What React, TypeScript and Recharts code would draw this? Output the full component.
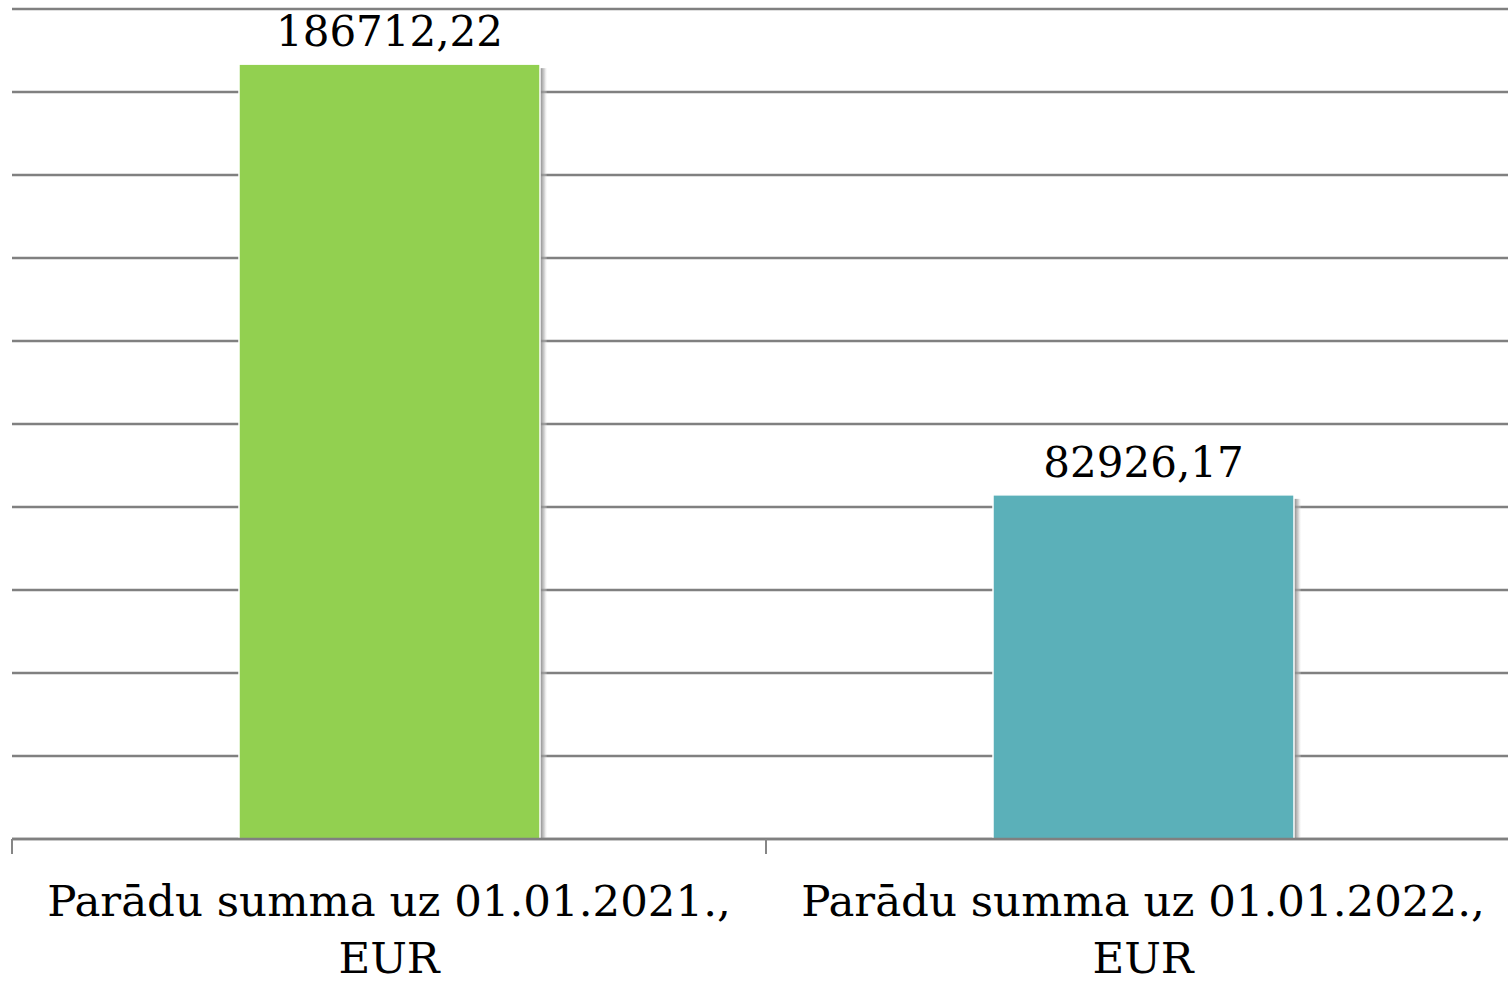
import { BarChart, Bar, XAxis, YAxis, CartesianGrid, LabelList } from 'recharts';

const categories = ['Parādu summa uz 01.01.2021., EUR', 'Parādu summa uz 01.01.2022., EUR'];
const debtValues = [186712.22, 82926.17];
const barColors = ['#92D050', '#5BB0B9'];
const yTicks = [0, 20000, 40000, 60000, 80000, 100000, 120000, 140000, 160000, 180000, 200000];

const chartData = categories.map((name, i) => ({ name, value: debtValues[i] }));

const FONT = '"DejaVu Serif", serif';

// bar with a soft gray shadow on the right, like the office export
function ShadowBar(props: any) {
  const { x, y, width, height, index } = props;
  if (!height || height <= 0) return null;
  const gid = `shadow-${index}`;
  return (
    <g>
      <defs>
        <linearGradient id={gid} x1="0" y1="0" x2="1" y2="0">
          <stop offset="0%" stopColor="#7a7a7a" stopOpacity={0.95} />
          <stop offset="60%" stopColor="#b0b0b0" stopOpacity={0.6} />
          <stop offset="100%" stopColor="#e8e8e8" stopOpacity={0.1} />
        </linearGradient>
      </defs>
      <rect x={x + width} y={y + 4} width={7} height={height - 4} fill={`url(#${gid})`} />
      <rect x={x} y={y} width={width} height={height} fill={barColors[index]} stroke="#ffffff" strokeWidth={1.5} />
    </g>
  );
}

// two-line category label + boundary tick between categories
function CategoryTick(props: any) {
  const { x, y, payload, width } = props;
  const text: string = payload.value;
  const cut = text.lastIndexOf(' ');
  const lines = [text.slice(0, cut), text.slice(cut + 1)];
  const half = width / (categories.length * 2);
  return (
    <g>
      <line x1={x - half} x2={x - half} y1={y - 17} y2={y - 2} stroke="#868686" strokeWidth={2} />
      <text x={x} y={y + 60} textAnchor="middle" fontFamily={FONT} fontSize={43.5} fill="#000000">
        {lines.map((l, i) => (
          <tspan key={i} x={x} dy={i === 0 ? 0 : 57}>
            {l}
          </tspan>
        ))}
      </text>
    </g>
  );
}

export default function App() {
  return (
    <div style={{ position: 'absolute', left: 0, top: 0, width: 1508, height: 982, overflow: 'hidden', background: '#ffffff' }}>
      <BarChart
        width={1520}
        height={982}
        data={chartData}
        margin={{ top: 9, right: 0, left: 12, bottom: 0 }}
        barCategoryGap="30%"
      >
        <CartesianGrid vertical={false} stroke="#808080" strokeWidth={2.5} />
        <XAxis
          dataKey="name"
          height={143}
          interval={0}
          axisLine={{ stroke: '#808080', strokeWidth: 2.5 }}
          tickLine={false}
          tickSize={15}
          tick={<CategoryTick />}
        />
        <YAxis hide domain={[0, 200000]} ticks={yTicks} />
        <Bar dataKey="value" barSize={301} shape={<ShadowBar />} isAnimationActive={false}>
          <LabelList
            dataKey="value"
            position="top"
            offset={18}
            formatter={(v: any) => Number(v).toFixed(2).replace('.', ',')}
            style={{ fontFamily: FONT, fontSize: 42, fill: '#000000' }}
          />
        </Bar>
      </BarChart>
    </div>
  );
}
